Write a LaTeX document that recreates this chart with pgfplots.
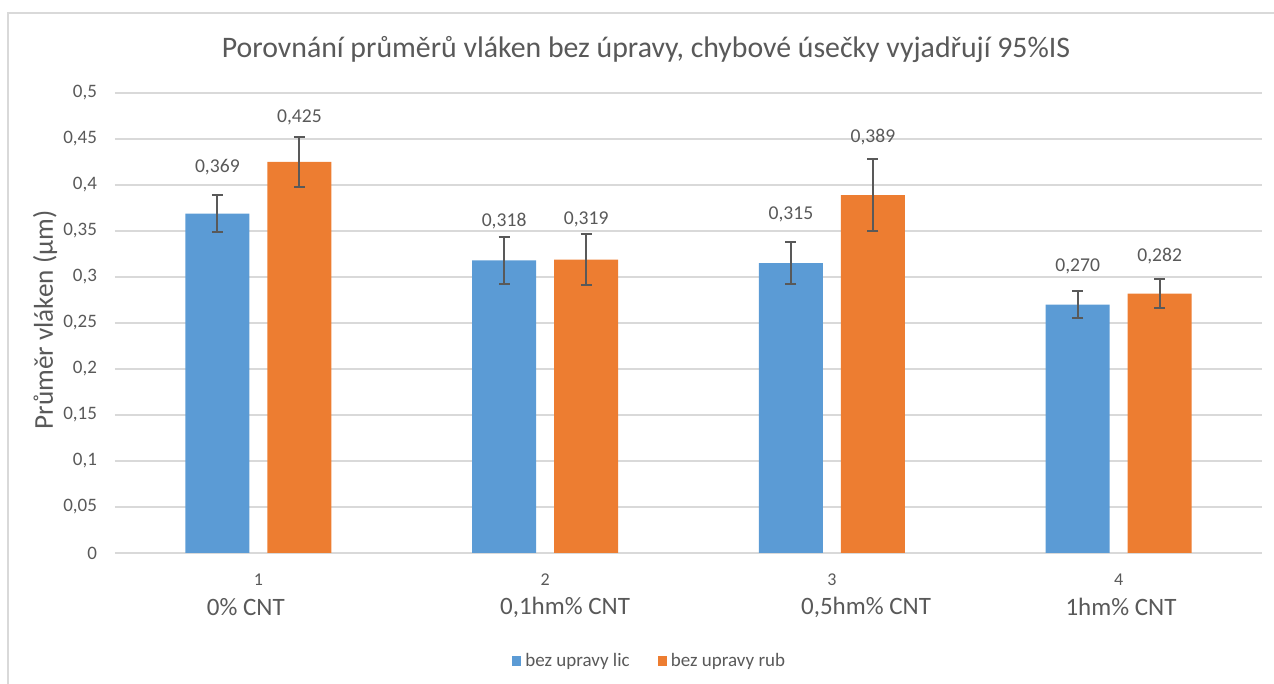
\documentclass[border=0pt]{standalone}
\usepackage{pgfplots}
\pgfplotsset{compat=1.18}
\usepackage{fontspec}
\setmainfont{Carlito}
\definecolor{cblue}{HTML}{5B9BD5}
\definecolor{corange}{HTML}{ED7D31}
\definecolor{txt}{HTML}{595959}
\definecolor{gridc}{HTML}{D9D9D9}
\begin{document}
\begin{tikzpicture}[x=1pt,y=1pt]
\useasboundingbox (0,0) rectangle (637,342);
\draw[gridc, line width=1pt] (4,0) -- (4,335.5) -- (637,335.5);
\begin{axis}[
  at={(57.5pt,65.5pt)}, anchor=south west,
  scale only axis, width=573.5pt, height=230pt,
  ybar, bar width=32pt,
  xmin=0.5, xmax=4.5, ymin=0, ymax=0.5,
  clip=false,
  axis line style={draw=none},
  major tick style={draw=none},
  ytick={0,0.05,0.1,0.15,0.2,0.25,0.3,0.35,0.4,0.45,0.5},
  ymajorgrids, major grid style={gridc, line width=1pt},
  yticklabel style={/pgf/number format/use comma, /pgf/number format/fixed,
    /pgf/number format/precision=2, /pgf/number format/assume math mode=true,
    font=\fontsize{9.5}{11}\selectfont, text=txt, xshift=-5.5pt},
  xtick={1,2,3,4}, xticklabels={1,2,3,4},
  xticklabel style={font=\fontsize{9}{10}\selectfont, text=txt, yshift=-2.5pt},
  legend style={at={(0.467,-0.2348)}, anchor=center, draw=none, fill=none,
    legend columns=2, font=\fontsize{9.5}{11}\selectfont, text=txt,
    /tikz/every even column/.append style={column sep=12pt}},
  legend image code/.code={\fill[#1] (0pt,-2.3pt) rectangle (4.6pt,2.3pt);},
]
\addplot[bar shift=-20.5pt, fill=cblue, draw=none,
  error bars/.cd, y dir=both, y explicit,
  error bar style={line width=1pt, draw=txt},
  error mark options={rotate=90, line width=1pt, draw=txt, mark size=2.75pt}]
  coordinates {(1,0.369) +- (0,0.020) (2,0.318) +- (0,0.026) (3,0.315) +- (0,0.023) (4,0.270) +- (0,0.015)};
\addlegendentry{bez upravy lic}
\addplot[bar shift=20.5pt, fill=corange, draw=none,
  error bars/.cd, y dir=both, y explicit,
  error bar style={line width=1pt, draw=txt},
  error mark options={rotate=90, line width=1pt, draw=txt, mark size=2.75pt}]
  coordinates {(1,0.425) +- (0,0.027) (2,0.319) +- (0,0.0275) (3,0.389) +- (0,0.039) (4,0.282) +- (0,0.016)};
\addlegendentry{bez upravy rub}
% data labels
\addplot[forget plot, sharp plot, bar shift=0pt, draw=none, mark=none, point meta=explicit,
  nodes near coords={\pgfmathprintnumber[fixed,zerofill,precision=3,use comma,assume math mode=true]{\pgfplotspointmeta}},
  nodes near coords style={anchor=center, font=\fontsize{9.8}{11}\selectfont, text=txt}]
  coordinates {(0.857,0.4196) [0.369] (1.857,0.3609) [0.318] (2.857,0.3685) [0.315] (3.857,0.3120) [0.270]
               (1.143,0.4739) [0.425] (2.143,0.3630) [0.319] (3.143,0.4522) [0.389] (4.143,0.3228) [0.282]};
\end{axis}
\node[text=txt, font=\fontsize{14.9}{17}\selectfont] at (323,317) {Porovnání průměrů vláken bez úpravy, chybové úsečky vyjadřují 95\%IS};
\node[text=txt, rotate=90, font=\fontsize{13.6}{15}\selectfont] at (22.5,182) {Průměr vláken (µm)};
\begin{scope}[every node/.style={text=txt, font=\fontsize{12.5}{14}\selectfont}]
\node at (122.9,38.5) {0\% CNT};
\node at (282.5,38.5) {0,1hm\% CNT};
\node at (433,38.5) {0,5hm\% CNT};
\node at (560.5,38.5) {1hm\% CNT};
\end{scope}
\end{tikzpicture}
\end{document}
